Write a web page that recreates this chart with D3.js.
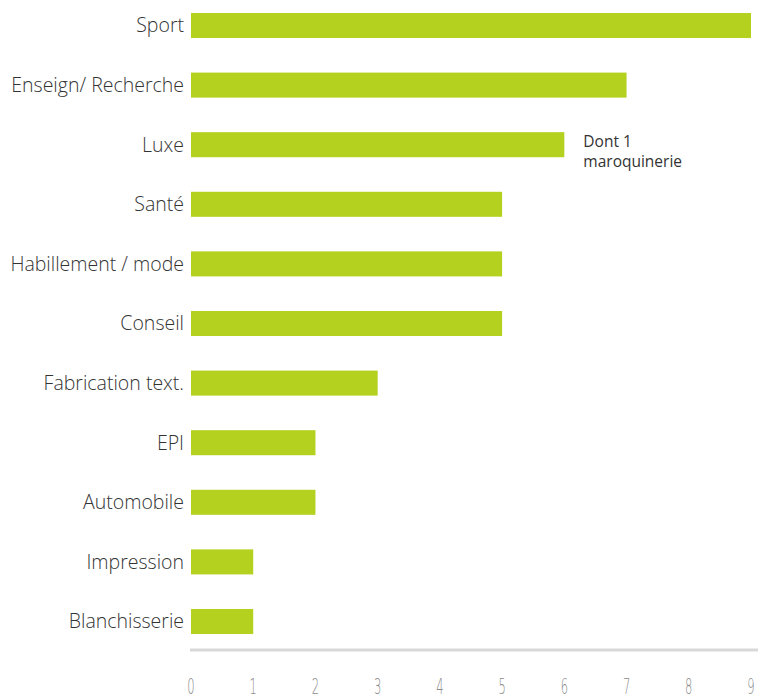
<!DOCTYPE html>
<html><head><meta charset="utf-8">
<script src="https://cdn.jsdelivr.net/npm/d3@7"></script>
<style>body{margin:0;background:#fff}svg{display:block}</style>
</head><body><svg id="c" width="758" height="699"></svg>
<script>
const categories = ["Sport","Enseign/ Recherche","Luxe","Santé","Habillement / mode","Conseil","Fabrication text.","EPI","Automobile","Impression","Blanchisserie"];
const values = [9,7,6,5,5,5,3,2,2,1,1];
const tickValues = [0,1,2,3,4,5,6,7,8,9];
const annotationLines = ["Dont 1","maroquinerie"];
const annotationCategory = "Luxe";

const svg = d3.select("#c");
const x = d3.scaleLinear().domain([0,9]).range([191,751]);
const y = d3.scaleBand().domain(categories).range([-4.3,651.3]).paddingInner(0.58).paddingOuter(0.29);

svg.append("g").selectAll("rect").data(categories).join("rect")
  .attr("x", x(0)).attr("y", d=>y(d))
  .attr("width", (d,i)=>x(values[i])-x(0)).attr("height", y.bandwidth())
  .attr("fill","#b5d11f");

svg.append("g").selectAll("text").data(categories).join("text")
  .attr("x",184).attr("y",d=>y(d)+y.bandwidth()/2)
  .attr("dy","0.35em").attr("text-anchor","end")
  .attr("font-family","Open Sans, sans-serif").attr("font-weight",300).attr("font-size",19.5)
  .attr("fill","#333").text(d=>d);

// axis
svg.append("line").attr("x1",190).attr("x2",758).attr("y1",650).attr("y2",650)
  .attr("stroke","#d9d9d9").attr("stroke-width",3);
const ax = svg.append("g");
ax.selectAll("text").data(tickValues).join("text")
  .attr("transform", d=>`translate(${x(d)},694) scale(0.55,1)`)
  .attr("text-anchor","middle")
  .attr("font-family","DejaVu Sans, sans-serif").attr("font-weight",200).attr("font-size",21)
  .attr("fill","#8a8a8a").text(d=>d);

// annotation
const ai = categories.indexOf(annotationCategory);
const ann = svg.append("text").attr("font-family","Open Sans, sans-serif").attr("font-size",15.5).attr("fill","#333");
annotationLines.forEach((l,k)=>{
  ann.append("tspan").attr("x", x(values[ai])+19).attr("y", y(annotationCategory)+y.bandwidth()/2 + 2 + k*20).text(l);
});
</script></body></html>
